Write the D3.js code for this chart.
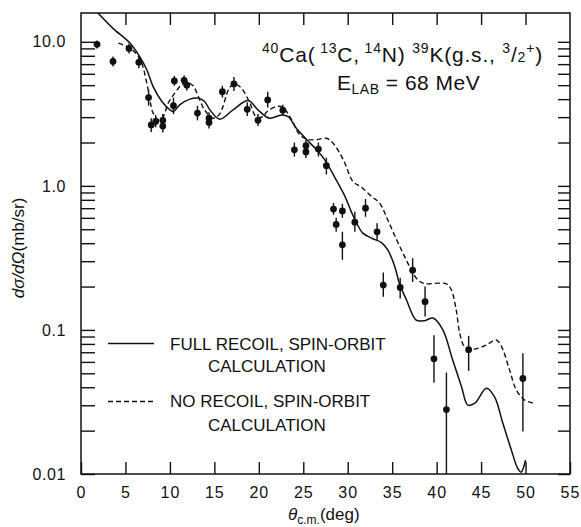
<html lang='en'>
<head>
   <meta charset='UTF-8'>
   <script src='https://d3js.org/d3.v7.min.js'></script>
   <style>
      body{ margin:0; padding:0; background-color:white; }
      svg text{ font-family:'Liberation Sans', Arial, sans-serif; fill:#111; }
   </style>
</head>
<body>
   <div id='tavola'></div>
   <script>
   // measured points (theta c.m. in deg, cross section in mb/sr)
   var thetaData = [1.8,3.6,5.4,6.5,7.6,7.9,8.4,9.2,9.2,10.4,10.5,11.6,11.9,13.1,14.4,14.4,15.9,17.2,18.7,19.9,21.0,22.7,24.0,25.3,25.3,26.7,27.6,28.4,28.7,29.4,29.4,30.8,32.0,33.3,34.0,35.9,37.3,38.7,39.7,41.1,43.6,49.7];
   var sigmaData = [9.6,7.3,9.0,7.2,4.1,2.65,2.8,2.85,2.6,3.6,5.35,5.4,5.0,3.2,2.95,2.75,4.5,5.1,3.4,2.85,3.95,3.35,1.78,1.9,1.72,1.8,1.38,0.69,0.54,0.67,0.39,0.56,0.70,0.48,0.205,0.197,0.26,0.157,0.063,0.028,0.073,0.046];
   var sigmaLo = [9.0,6.75,8.3,6.55,3.6,2.37,2.55,2.6,2.35,3.15,4.95,5.0,4.6,2.85,2.7,2.5,4.1,4.55,3.05,2.6,3.5,3.1,1.6,1.72,1.56,1.6,1.2,0.63,0.48,0.6,0.307,0.48,0.61,0.42,0.17,0.165,0.215,0.124,0.043,0.005,0.052,0.0197];
   var sigmaHi = [10.2,7.9,9.75,7.9,4.65,2.95,3.1,3.15,2.85,4.1,5.8,5.85,5.4,3.6,3.25,3.0,4.95,5.7,3.8,3.15,4.5,3.65,2.0,2.1,1.9,2.0,1.57,0.76,0.6,0.75,0.48,0.66,0.81,0.55,0.25,0.23,0.315,0.2,0.092,0.0506,0.091,0.069];

   // full recoil, spin-orbit calculation (solid)
   var fullTheta = [1.85,3.6,5.5,6.6,7.4,8.1,9.1,10.0,10.4,11.1,12.25,13.2,13.9,14.5,15.6,17.1,18.8,19.9,21.2,22.55,23.3,24.2,25.4,26.5,27.4,28.7,29.7,30.4,31.0,31.7,32.7,33.8,34.5,35.3,35.8,36.6,37.7,38.65,39.6,40.7,41.8,42.8,43.5,44.3,45.6,46.5,47.45,48.4,49.1,49.5,50.0];
   var fullSigma = [16.0,12.4,9.8,7.9,6.4,4.9,3.85,3.37,3.28,3.65,4.0,4.06,3.85,3.37,2.9,3.37,3.91,3.37,2.95,3.11,3.03,2.52,2.09,1.78,1.52,1.10,0.843,0.663,0.551,0.47,0.433,0.404,0.359,0.275,0.211,0.162,0.117,0.116,0.121,0.1,0.062,0.0404,0.0301,0.031,0.0394,0.0344,0.0225,0.0147,0.011,0.0103,0.0125];

   // no recoil, spin-orbit calculation (dashed)
   var noTheta = [4.2,5.5,6.6,7.4,7.75,8.1,8.7,9.25,9.8,10.55,11.3,11.9,12.6,13.2,13.9,14.9,15.6,16.7,17.3,18.1,19.0,19.7,20.5,20.9,22.0,22.7,23.7,24.6,25.4,26.5,27.6,28.35,29.5,30.6,31.5,32.7,33.6,34.5,35.5,36.4,37.15,37.9,38.65,41.1,41.65,42.2,42.6,43.15,44.1,45.6,46.7,47.3,48.2,48.96,49.9,51.0];
   var noSigma = [9.8,9.04,7.7,5.17,3.95,3.21,2.87,3.03,3.75,4.4,5.03,5.23,4.95,4.17,3.37,2.95,3.16,4.79,5.11,4.72,3.75,3.03,3.03,3.27,3.56,3.51,2.87,2.26,2.11,2.09,2.14,1.98,1.52,1.07,0.984,0.843,0.758,0.58,0.422,0.323,0.261,0.222,0.21,0.209,0.19,0.138,0.0948,0.0766,0.0734,0.0787,0.0852,0.0766,0.0528,0.0383,0.0326,0.031];

   var xTicks = [0,5,10,15,20,25,30,35,40,45,50,55];
   var xInner = [5,10,15,20,25,30,35,40,45,50];
   var yMajor = [0.01,0.1,1,10];
   var yLabels = ['0.01','0.1','1.0','10.0'];

   var W = 581, H = 527;
   var L = 81, R = 570, T = 13, B = 474;

   var svg = d3.select('#tavola').append('svg')
      .attr('width', W).attr('height', H);

   var x = d3.scaleLinear().domain([0,55]).range([L,R]);
   var y = d3.scaleLog().domain([0.01, Math.pow(10,1.2)]).range([B,T]);

   var yMinor = [];
   for (let d = 0.01; d < 10; d *= 10) {
      for (let k = 2; k <= 9; k++) yMinor.push(+(d*k).toPrecision(3));
   }

   svg.append('clipPath').attr('id','frame')
      .append('rect').attr('x',L).attr('y',T).attr('width',R-L).attr('height',B-T);

   // axes, ticks pointing inward
   function clean(g){ g.select('.domain').remove(); g.selectAll('line').attr('stroke','#111').attr('stroke-width',1.4); }

   svg.append('g').attr('transform','translate(0,'+B+')')
      .call(d3.axisBottom(x).tickValues(xTicks).tickSize(-12).tickPadding(13))
      .call(clean)
      .call(function(g){ g.selectAll('text').attr('font-size',16).style('letter-spacing','1px'); });

   svg.append('g').attr('transform','translate(0,'+T+')')
      .call(d3.axisTop(x).tickValues(xInner).tickSize(-12).tickFormat(''))
      .call(clean);

   svg.append('g').attr('transform','translate('+L+',0)')
      .call(d3.axisLeft(y).tickValues(yMajor).tickSize(-14).tickPadding(15)
         .tickFormat(function(d,i){ return yLabels[i]; }))
      .call(clean)
      .call(function(g){ g.selectAll('text').attr('font-size',16).style('letter-spacing','0.6px'); });

   svg.append('g').attr('transform','translate('+L+',0)')
      .call(d3.axisLeft(y).tickValues(yMinor).tickSize(-14).tickFormat(''))
      .call(clean);

   svg.append('g').attr('transform','translate('+R+',0)')
      .call(d3.axisRight(y).tickValues(yMajor.concat(yMinor)).tickSize(-12).tickFormat(''))
      .call(clean);

   svg.append('rect')
      .attr('x',L).attr('y',T).attr('width',R-L).attr('height',B-T)
      .attr('fill','none').attr('stroke','#111').attr('stroke-width',1.5);

   // curves
   var line = d3.line()
      .x(function(d){ return x(d[0]); })
      .y(function(d){ return y(d[1]); })
      .curve(d3.curveCatmullRom.alpha(0.5));

   svg.append('path')
      .attr('clip-path','url(#frame)')
      .attr('d', line(d3.zip(fullTheta, fullSigma)))
      .attr('fill','none').attr('stroke','#111').attr('stroke-width',1.5);

   svg.append('path')
      .attr('clip-path','url(#frame)')
      .attr('d', line(d3.zip(noTheta, noSigma)))
      .attr('fill','none').attr('stroke','#111').attr('stroke-width',1.4)
      .attr('stroke-dasharray','5,3');

   // data with error bars
   var pts = svg.append('g').selectAll('g').data(d3.range(thetaData.length)).enter().append('g');
   pts.append('line')
      .attr('x1', function(i){ return x(thetaData[i]); })
      .attr('x2', function(i){ return x(thetaData[i]); })
      .attr('y1', function(i){ return y(Math.max(sigmaLo[i], 0.01)); })
      .attr('y2', function(i){ return y(sigmaHi[i]); })
      .attr('stroke','#111').attr('stroke-width',1.4);
   pts.append('circle')
      .attr('cx', function(i){ return x(thetaData[i]); })
      .attr('cy', function(i){ return y(sigmaData[i]); })
      .attr('r', 3.4).attr('fill','#111');

   // title
   function rich(x0, y0, parts){
      var txt = svg.append('text').attr('x', x0).attr('y', y0);
      parts.forEach(function(p){
         txt.append('tspan').attr('y', y0 + p[2]).attr('font-size', p[1]).text(p[0]);
      });
      return txt;
   }
   rich(262, 62, [
      ['40',14,-9],['Ca(',21,0],[' 13',14,-9],['C,',21,0],[' 14',14,-9],['N) ',21,0],
      ['39',14,-9],['K(g.s., ',21,0],['3',14,-9],['/',21,0],['2',14,0],['+',14,-9],[')',21,0]
   ]).style('letter-spacing','0.8px');
   rich(337, 90, [['E',21,0],['LAB',14,4],[' = 68 MeV',21,0]]).style('letter-spacing','0.5px');

   // legend
   svg.append('line').attr('x1',108).attr('x2',154).attr('y1',343.5).attr('y2',343.5)
      .attr('stroke','#111').attr('stroke-width',1.4);
   svg.append('line').attr('x1',108).attr('x2',155).attr('y1',401.5).attr('y2',401.5)
      .attr('stroke','#111').attr('stroke-width',1.4).attr('stroke-dasharray','5,3');
   svg.append('text').attr('x',170).attr('y',350).attr('font-size',17).text('FULL RECOIL, SPIN-ORBIT');
   svg.append('text').attr('x',208).attr('y',372).attr('font-size',17).text('CALCULATION');
   svg.append('text').attr('x',170).attr('y',407).attr('font-size',17).text('NO RECOIL, SPIN-ORBIT');
   svg.append('text').attr('x',208).attr('y',431).attr('font-size',17).text('CALCULATION');

   // axis titles
   var xt = svg.append('text').attr('x',288).attr('y',520).attr('font-size',17);
   xt.append('tspan').attr('font-style','italic').text('\u03b8');
   xt.append('tspan').attr('font-size',12).attr('y',524).text('c.m.');
   xt.append('tspan').attr('y',520).text('(deg)');

   var yt = svg.append('text').attr('transform','translate(24,248) rotate(-90)')
      .attr('text-anchor','middle').attr('font-size',17);
   yt.append('tspan').attr('font-style','italic').text('d\u03c3/d\u03a9');
   yt.append('tspan').text('(mb/sr)');
   </script>
</body>
</html>
